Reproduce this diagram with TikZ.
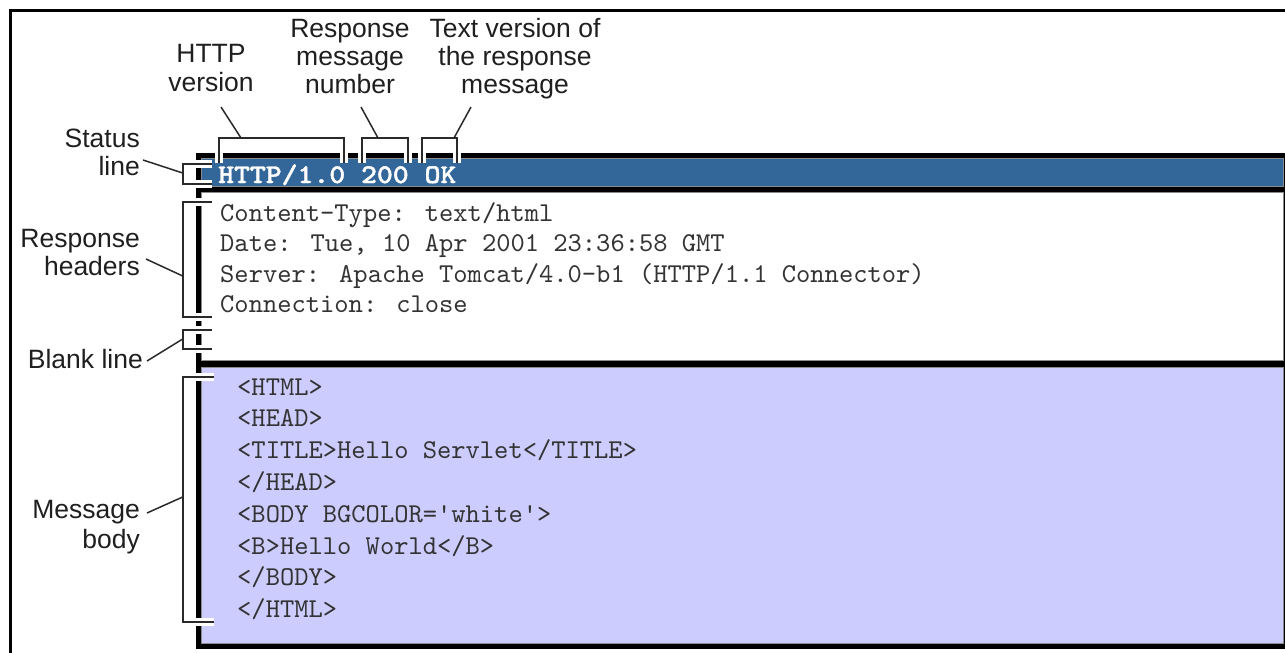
\documentclass[tikz,border=0pt]{standalone}
\usepackage{fontspec}
\setmainfont{Liberation Sans}
\newfontfamily\monof{lmmono10-regular}[Extension=.otf]
\newfontfamily\statf{lmmonolt10-bold}[Extension=.otf, FakeStretch=1.12, FakeBold=1.5]
\definecolor{hdrblue}{HTML}{336699}
\definecolor{lav}{HTML}{CCCCFF}
\definecolor{codegray}{HTML}{333333}
\definecolor{brkgray}{HTML}{2A2A2A}
\definecolor{edgegray}{HTML}{8A8A8A}
\tikzset{
  lbl/.style={inner sep=0pt, text=black!88, font=\fontsize{26.5}{28}\selectfont},
  lbll/.style={lbl, anchor=base east},
  lblc/.style={lbl, anchor=base},
  code/.style={inner sep=0pt, anchor=base west, text=codegray, font=\monof\fontsize{27.2}{30}\selectfont},
  stat/.style={inner sep=0pt, anchor=base west, text=white, font=\statf\fontsize{27}{30}\selectfont},
  brk/.style={draw=brkgray, line width=2pt, preaction={draw=white, line width=8pt}},
  leader/.style={draw=brkgray, line width=1.5pt},
  panel/.style={draw=edgegray, line width=1pt}
}
\begin{document}
\begin{tikzpicture}[x=1pt,y=-1pt]
\useasboundingbox (0,0) rectangle (1285,653);
\fill[white] (0,0) rectangle (1285,653);
% outer frame (top and left edges visible)
\draw[line width=3pt] (10.7,653) -- (10.7,10.7) -- (1285,10.7);
% black frame behind the panels
\fill[black] (196,153) rectangle (1285,649);
% panels
\path[panel, fill=hdrblue] (201.7,158.3) rectangle (1283.5,186.7);
\path[panel, fill=white] (201.7,192.3) rectangle (1283.5,360);
\path[panel, fill=lav] (201.7,367.3) rectangle (1283.5,643.3);
% status line text
\node[stat] (st) at (218,183) {HTTP/1.0 200 OK};
% headers
\node[code] (h1) at (220,221) {Content-Type: text/html};
\node[code] (h2) at (220,251.5) {Date: Tue, 10 Apr 2001 23:36:58 GMT};
\node[code] (h3) at (220,282) {Server: Apache Tomcat/4.0-b1 (HTTP/1.1 Connector)};
\node[code] (h4) at (220,312.5) {Connection: close};
% body
\node[code] (b1) at (237,395) {<HTML>};
\node[code] (b2) at (237,426.8) {<HEAD>};
\node[code] (b3) at (237,458.6) {<TITLE>Hello Servlet</TITLE>};
\node[code] (b4) at (237,490.4) {</HEAD>};
\node[code] (b5) at (237,522.2) {<BODY BGCOLOR=\textquotesingle white\textquotesingle>};
\node[code] (b6) at (237,554) {<B>Hello World</B>};
\node[code] (b7) at (237,585.8) {</BODY>};
\node[code] (b8) at (237,617.6) {</HTML>};
% top labels
\node[lblc] (hv1) at (211,62) {HTTP};
\node[lblc] (hv2) at (211,91) {version};
\node[lblc] (rn1) at (350,37) {Response};
\node[lblc] (rn2) at (350,65) {message};
\node[lblc] (rn3) at (350,93) {number};
\node[lblc] (tv1) at (515,37) {Text version of};
\node[lblc] (tv2) at (515,65) {the response};
\node[lblc] (tv3) at (515,93) {message};
% left labels
\node[lbll] (sl1) at (140,147) {Status};
\node[lbll] (sl2) at (140,175) {line};
\node[lbll] (rh1) at (140,247) {Response};
\node[lbll] (rh2) at (140,275) {headers};
\node[lbll] (bl) at (143,368) {Blank line};
\node[lbll] (mb1) at (140,518) {Message};
\node[lbll] (mb2) at (140,548) {body};
% top brackets
\draw[brk] (219,163) -- (219,138) -- (344,138) -- (344,163);
\draw[brk] (362,163) -- (362,138) -- (408,138) -- (408,163);
\draw[brk] (422,163) -- (422,138) -- (457,138) -- (457,163);
% left brackets
\draw[brk] (212,164) -- (182.7,164) -- (182.7,183.5) -- (212,183.5);
\draw[brk] (212,202) -- (182.7,202) -- (182.7,317) -- (212,317);
\draw[brk] (212,329.5) -- (182.7,329.5) -- (182.7,349.3) -- (212,349.3);
\draw[brk] (214,377) -- (182.7,377) -- (182.7,622) -- (214,622);
% leader end points
\coordinate (hvA) at (221,107);
\coordinate (hvB) at (241,138);
\coordinate (rnA) at (361,107);
\coordinate (rnB) at (378,138);
\coordinate (tvA) at (471,107);
\coordinate (tvB) at (454,138);
\coordinate (slA) at (143,160);
\coordinate (slB) at (182.7,173);
\coordinate (rhA) at (146,259);
\coordinate (rhB) at (182.7,276);
\coordinate (blA) at (147,361);
\coordinate (blB) at (182.7,339);
\coordinate (mbA) at (147,513);
\coordinate (mbB) at (182.7,497);
\draw[leader] (hvA) -- (hvB);
\draw[leader] (rnA) -- (rnB);
\draw[leader] (tvA) -- (tvB);
\draw[leader] (slA) -- (slB);
\draw[leader] (rhA) -- (rhB);
\draw[leader] (blA) -- (blB);
\draw[leader] (mbA) -- (mbB);
\end{tikzpicture}
\end{document}
